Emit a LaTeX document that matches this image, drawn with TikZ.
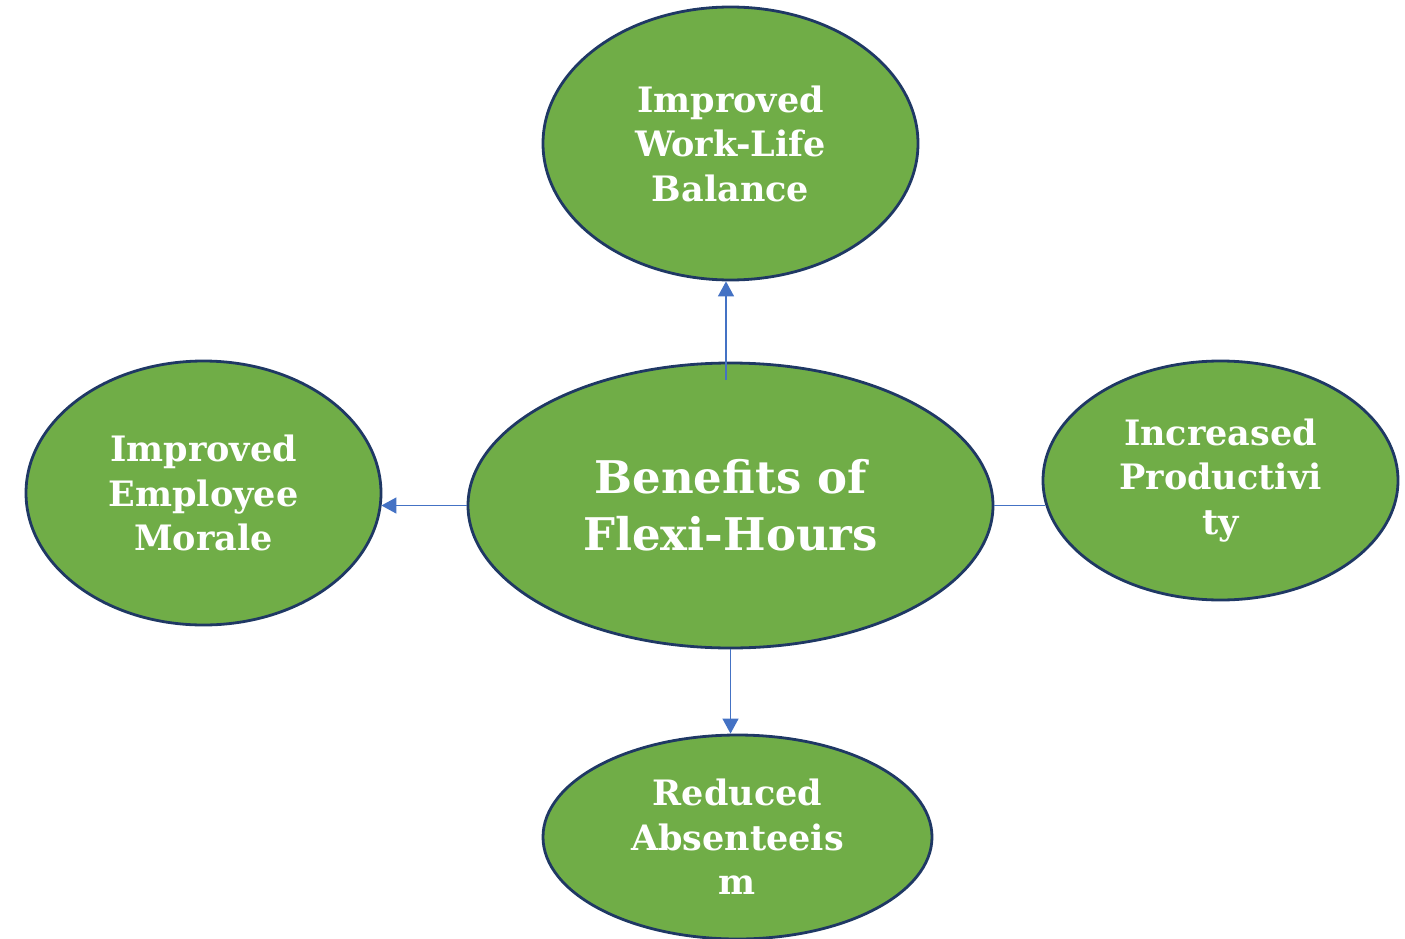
\documentclass[tikz,border=0pt]{standalone}
\usepackage{fontspec}
\newfontfamily\labfont{DejaVu Serif}
\usetikzlibrary{arrows.meta,shapes.geometric}
\definecolor{leafgreen}{HTML}{70AD47}
\definecolor{rimnavy}{HTML}{1F3864}
\definecolor{linkblue}{HTML}{4472C4}
\begin{document}
\begin{tikzpicture}[x=1pt,y=-1pt,
  bubble/.style={ellipse, draw=rimnavy, line width=2.8pt, fill=leafgreen,
    inner sep=0pt, text=white, align=center,
    font=\labfont\bfseries\fontsize{35}{44.5}\selectfont},
  link/.style={draw=linkblue, line width=1.4pt},
  linkarrow/.style={link, -{Triangle[length=15pt,width=16pt]}}]
\useasboundingbox (0,0) rectangle (1405,939);
% ellipses
\node[bubble, minimum width=525pt, minimum height=285pt,
  font=\labfont\bfseries\fontsize{45}{57}\selectfont] (hub) at (730.5,505.5)
  {Benefits of\\Flexi-Hours};
\node[bubble, minimum width=375pt, minimum height=273pt] (top) at (730.5,143.5)
  {Improved\\Work-Life\\Balance};
\node[bubble, minimum width=355pt, minimum height=264pt] (left) at (203.5,493)
  {Improved\\Employee\\Morale};
\node[bubble, minimum width=355pt, minimum height=239pt] (right) at (1220.5,480.5)
  {Increased\\Productivi\\ty};
\node[bubble, minimum width=389pt, minimum height=204pt] (bottom) at (737.5,837)
  {Reduced\\Absenteeis\\m};
% connectors
\coordinate (upstart) at (726,380);
\draw[linkarrow] (upstart) -- (upstart |- top.south);
\draw[linkarrow] (hub.west) -- ([xshift=-1pt]hub.west -| left.east);
\draw[link] (hub.east) -- ([xshift=3pt]hub.east -| right.west);
\draw[linkarrow] (hub.south) -- (hub.south |- bottom.north);
\end{tikzpicture}
\end{document}
